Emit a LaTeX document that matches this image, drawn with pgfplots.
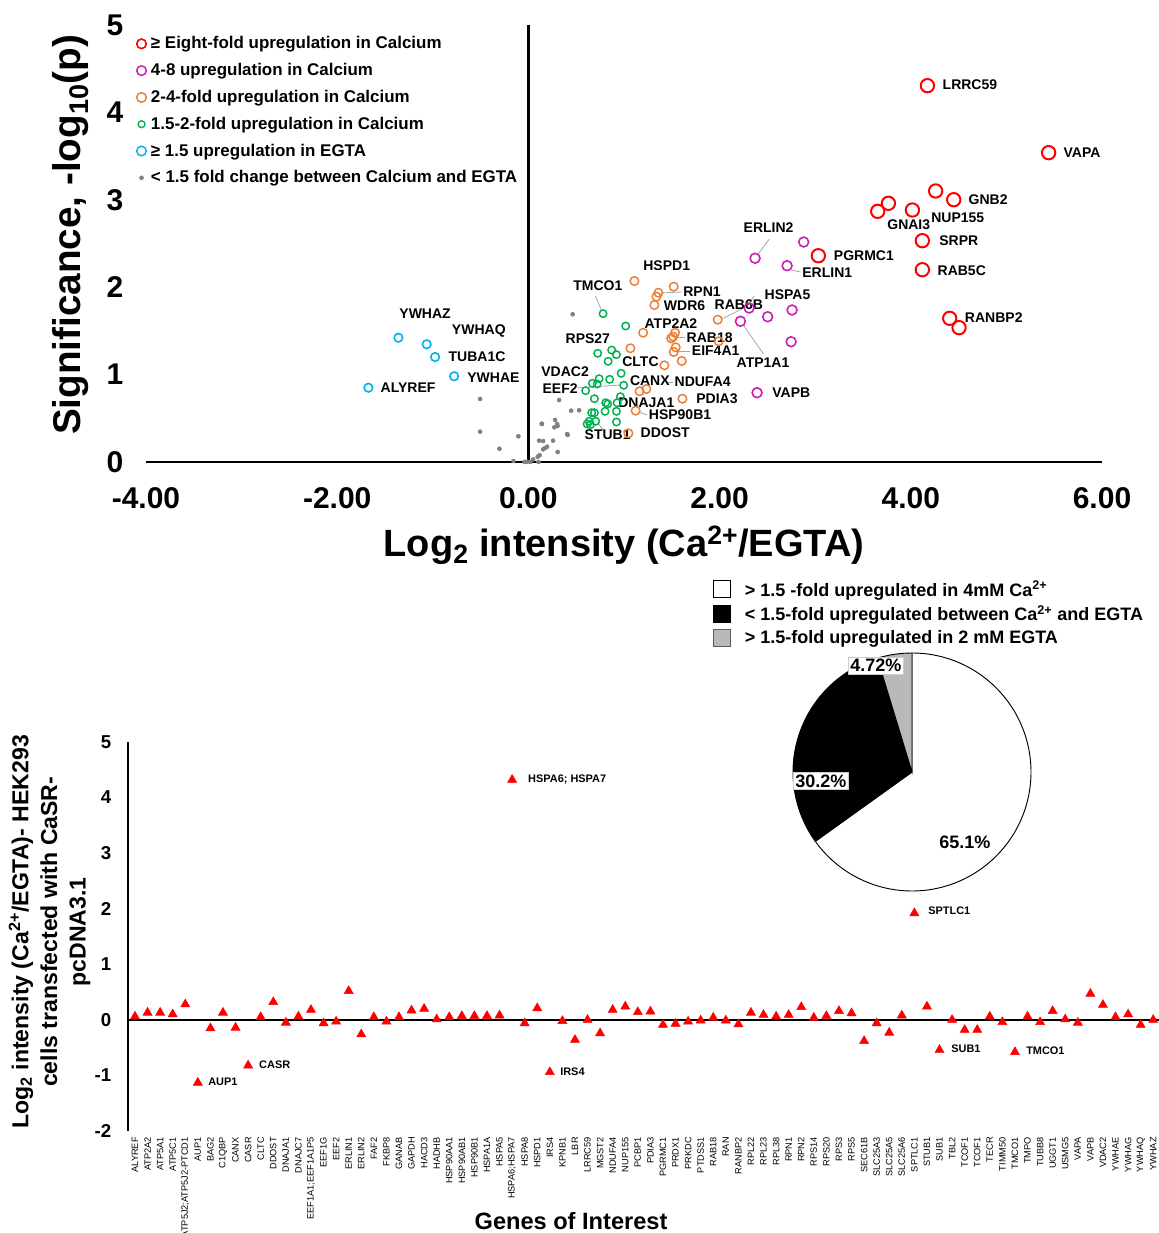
\documentclass[border=0pt]{standalone}
\usepackage{fontspec}
\setmainfont{Liberation Sans}
\usepackage{pgfplots}
\pgfplotsset{compat=1.18}
\usepackage{pgfplotstable}

\definecolor{upred}{RGB}{255,0,0}
\definecolor{upmag}{RGB}{204,30,180}
\definecolor{uporange}{RGB}{237,125,49}
\definecolor{upgreen}{RGB}{0,176,80}
\definecolor{upblue}{RGB}{0,176,240}
\definecolor{nsgray}{RGB}{128,128,128}

\pgfplotsset{
  legmark/.style={legend image code/.code={%
    \draw[mark repeat=2,mark phase=2,##1] plot coordinates {(-3pt,0pt) (0pt,0pt) (3pt,0pt)};}},
}
\tikzset{
  lab/.style={font=\bfseries\fontsize{10.5}{12}\selectfont, inner sep=0pt, anchor=west},
  leader/.style={gray!70, line width=0.6pt},
  pct/.style={font=\bfseries\fontsize{13.5}{15}\selectfont, inner sep=1.5pt},
  glab/.style={font=\bfseries\fontsize{8.2}{9}\selectfont, inner sep=0pt, anchor=west},
}

% ---------- volcano plot: x = log2 ratio, y = -log10(p) ----------
\pgfplotstableread{
x y
4.174 4.306
5.442 3.539
4.260 3.101
4.449 3.001
3.766 2.960
3.654 2.868
4.017 2.883
4.121 2.532
4.121 2.200
3.033 2.360
4.407 1.644
4.505 1.537
}\eightfold

\pgfplotstableread{
x y
2.371 2.331
2.880 2.517
2.706 2.246
2.309 1.762
2.503 1.662
2.758 1.739
2.218 1.610
2.748 1.376
2.392 0.793
}\fourfold

\pgfplotstableread{
x y
1.109 2.071
1.520 2.006
1.360 1.937
1.339 1.891
1.318 1.796
1.980 1.628
1.200 1.479
1.535 1.479
1.514 1.434
1.493 1.415
1.990 1.381
1.067 1.301
1.541 1.312
1.520 1.259
1.604 1.156
1.423 1.106
1.234 0.835
1.164 0.809
1.611 0.724
1.122 0.587
1.046 0.328
}\twofold

\pgfplotstableread{
x y
0.781 1.697
1.018 1.556
0.725 1.244
0.871 1.281
0.921 1.228
0.834 1.152
0.970 1.015
0.740 0.953
0.850 0.946
0.669 0.900
0.719 0.892
0.599 0.816
0.997 0.878
0.690 0.724
0.962 0.747
0.809 0.678
0.829 0.664
0.928 0.678
0.690 0.564
0.802 0.580
0.921 0.580
0.662 0.564
0.635 0.466
0.704 0.466
0.614 0.435
0.649 0.427
0.921 0.458
}\onehalffold

\pgfplotstableread{
x y
-1.360 1.422
-1.064 1.347
-0.976 1.201
-0.777 0.981
-1.674 0.850
}\egta

\pgfplotstableread{
x y
-0.505 0.721
-0.505 0.347
-0.105 0.294
-0.303 0.152
-0.157 0.011
-0.014 0.003
0.020 0.000
0.105 0.000
0.139 0.438
0.279 0.481
0.272 0.397
0.306 0.412
0.321 0.709
0.405 0.320
0.112 0.244
0.258 0.244
0.175 0.160
0.154 0.145
0.306 0.114
0.118 0.077
0.097 0.061
0.463 1.690
0.530 0.592
0.447 0.587
0.300 0.435
0.411 0.309
0.143 0.435
0.154 0.240
0.196 0.175
-0.040 0.000
0.050 0.030
}\unchanged

% ---------- HEK293 / CaSR-pcDNA3.1 log2 ratios, one per gene ----------
\pgfplotstableread{
i v
0 0.06
1 0.13
2 0.13
3 0.10
4 0.28
5 -1.13
6 -0.15
7 0.13
8 -0.14
9 -0.82
10 0.05
11 0.32
12 -0.05
13 0.06
14 0.18
15 -0.06
16 -0.03
17 0.52
18 -0.26
19 0.05
20 -0.03
21 0.05
22 0.17
23 0.20
24 0.01
25 0.05
26 0.07
27 0.07
28 0.07
29 0.08
30 4.32
31 -0.06
32 0.21
33 -0.94
34 -0.02
35 -0.36
36 0.00
37 -0.24
38 0.18
39 0.24
40 0.14
41 0.15
42 -0.09
43 -0.07
44 -0.03
45 -0.01
46 0.04
47 -0.01
48 -0.08
49 0.13
50 0.09
51 0.06
52 0.09
53 0.23
54 0.04
55 0.07
56 0.16
57 0.12
58 -0.38
59 -0.06
60 -0.23
61 0.08
62 1.92
63 0.24
64 -0.54
65 0.00
66 -0.18
67 -0.18
68 0.06
69 -0.04
70 -0.58
71 0.06
72 -0.04
73 0.16
74 0.01
75 -0.05
76 0.47
77 0.27
78 0.05
79 0.10
80 -0.09
81 0.00
}\hekratios

% pie shares (percent)
\def\shareCa{65.1}
\def\shareNone{30.2}
\def\shareEGTA{4.72}

\begin{document}
\begin{tikzpicture}
\useasboundingbox (0,0) rectangle (869.25pt,924.75pt);

% ================= volcano plot =================
\begin{axis}[
  at={(109.5pt,578.25pt)}, anchor=south west,
  width=717pt, height=327.75pt, scale only axis,
  xmin=-4, xmax=6, ymin=0, ymax=5,
  clip=false,
  axis x line*=bottom, axis y line*=left,
  x axis line style={-, line width=2.2pt},
  y axis line style={draw=none},
  xtick={-4,-2,0,2,4,6}, ytick={0,1,2,3,4,5},
  major tick length=0pt,
  /pgf/number format/assume math mode=true,
  xticklabel style={font=\bfseries\fontsize{22.5}{24}\selectfont,
    /pgf/number format/fixed, /pgf/number format/fixed zerofill,
    /pgf/number format/precision=2, yshift=-16pt},
  yticklabel style={font=\bfseries\fontsize{22.5}{24}\selectfont, xshift=-13.5pt},
  xlabel={Log\textsubscript{2} intensity (Ca\textsuperscript{2+}/EGTA)},
  ylabel={Significance, -log\textsubscript{10}(p)},
  xlabel style={font=\bfseries\fontsize{28.5}{30}\selectfont,
    at={(axis description cs:0.5,-0.217)}, anchor=base},
  ylabel style={font=\bfseries\fontsize{29}{30}\selectfont,
    at={(axis description cs:-0.068,0.52)}, anchor=base},
  legend style={draw=none, fill=none, inner sep=0pt,
    font=\bfseries\fontsize{12.7}{15}\selectfont,
    at={(axis description cs:-0.010,0.980)}, anchor=north west,
    row sep=5.4pt, cells={anchor=west}},
  legend cell align=left,
]
% legend entries
\addlegendimage{only marks, mark=o, mark size=3.6pt, upred, line width=1.2pt, legmark}
\addlegendentry{\hspace{1.5pt}≥ Eight-fold upregulation in Calcium}
\addlegendimage{only marks, mark=o, mark size=3.6pt, upmag, line width=1.1pt, legmark}
\addlegendentry{\hspace{1.5pt}4-8 upregulation in Calcium}
\addlegendimage{only marks, mark=o, mark size=3.6pt, uporange, line width=1.1pt, legmark}
\addlegendentry{\hspace{1.5pt}2-4-fold upregulation in Calcium}
\addlegendimage{only marks, mark=o, mark size=2.6pt, upgreen, line width=1.0pt, legmark}
\addlegendentry{\hspace{1.5pt}1.5-2-fold upregulation in Calcium}
\addlegendimage{only marks, mark=o, mark size=3.6pt, upblue, line width=1.1pt, legmark}
\addlegendentry{\hspace{1.5pt}≥ 1.5 upregulation in EGTA}
\addlegendimage{only marks, mark=*, mark size=1.5pt, nsgray, legmark}
\addlegendentry{\hspace{1.5pt}< 1.5 fold change between Calcium and EGTA}

% vertical axis line at x = 0
\addplot[black, line width=2.2pt, forget plot] coordinates {(0,0) (0,5)};

\addplot[only marks, mark=*, mark size=1.5pt, nsgray, forget plot] table {\unchanged};
\addplot[only marks, mark=o, mark size=3.2pt, upblue, line width=1.2pt, forget plot] table {\egta};
\addplot[only marks, mark=o, mark size=2.8pt, upgreen, line width=1.1pt, forget plot] table {\onehalffold};
\addplot[only marks, mark=o, mark size=3.2pt, uporange, line width=1.1pt, forget plot] table {\twofold};
\addplot[only marks, mark=o, mark size=3.7pt, upmag, line width=1.2pt, forget plot] table {\fourfold};
\addplot[only marks, mark=o, mark size=5.0pt, upred, line width=1.5pt, forget plot] table {\eightfold};

% leader lines
\draw[leader] (axis cs:2.396,2.369) -- (axis cs:2.521,2.551);
\draw[leader] (axis cs:2.751,2.197) -- (axis cs:2.845,2.174);
\draw[leader] (axis cs:0.701,1.899) -- (axis cs:0.764,1.739);
\draw[leader] (axis cs:1.381,1.934) -- (axis cs:1.600,1.945);
\draw[leader] (axis cs:1.559,1.430) -- (axis cs:1.642,1.430);
\draw[leader] (axis cs:1.538,1.270) -- (axis cs:1.695,1.270);
\draw[leader] (axis cs:2.249,1.568) -- (axis cs:2.458,1.236);
\draw[leader] (axis cs:1.444,0.915) -- (axis cs:1.517,0.915);
\draw[leader] (axis cs:0.513,0.847) -- (axis cs:0.962,0.881);
\draw[leader] (axis cs:1.151,0.572) -- (axis cs:1.245,0.538);
\draw[leader] (axis cs:0.722,0.446) -- (axis cs:0.795,0.355);
\draw[leader] (axis cs:2.030,1.640) -- (axis cs:2.250,1.760);
\draw[leader] (axis cs:2.300,1.800) -- (axis cs:2.360,1.900);

% gene names
\node[lab] at (axis cs:4.331,4.314) {LRRC59};
\node[lab] at (axis cs:5.596,3.535) {VAPA};
\node[lab] at (axis cs:4.603,2.998) {GNB2};
\node[lab] at (axis cs:4.212,2.795) {NUP155};
\node[lab] at (axis cs:3.752,2.712) {GNAI3};
\node[lab] at (axis cs:4.296,2.532) {SRPR};
\node[lab] at (axis cs:4.278,2.189) {RAB5C};
\node[lab] at (axis cs:3.193,2.357) {PGRMC1};
\node[lab] at (axis cs:4.564,1.651) {RANBP2};
\node[lab] at (axis cs:2.249,2.677) {ERLIN2};
\node[lab] at (axis cs:2.863,2.170) {ERLIN1};
\node[lab] at (axis cs:2.469,1.911) {HSPA5};
\node[lab] at (axis cs:1.946,1.796) {RAB6B};
\node[lab] at (axis cs:1.200,2.243) {HSPD1};
\node[lab] at (axis cs:0.468,2.014) {TMCO1};
\node[lab] at (axis cs:1.618,1.949) {RPN1};
\node[lab] at (axis cs:1.415,1.788) {WDR6};
\node[lab] at (axis cs:1.213,1.582) {ATP2A2};
\node[lab] at (axis cs:1.653,1.419) {RAB18};
\node[lab] at (axis cs:1.708,1.270) {EIF4A1};
\node[lab] at (axis cs:2.176,1.136) {ATP1A1};
\node[lab] at (axis cs:0.387,1.411) {RPS27};
\node[lab] at (axis cs:0.980,1.148) {CLTC};
\node[lab] at (axis cs:0.133,1.033) {VDAC2};
\node[lab] at (axis cs:1.060,0.935) {CANX};
\node[lab] at (axis cs:1.527,0.923) {NDUFA4};
\node[lab] at (axis cs:0.146,0.839) {EEF2};
\node[lab] at (axis cs:0.938,0.678) {DNAJA1};
\node[lab] at (axis cs:1.754,0.721) {PDIA3};
\node[lab] at (axis cs:1.258,0.538) {HSP90B1};
\node[lab] at (axis cs:0.586,0.309) {STUB1};
\node[lab] at (axis cs:1.172,0.335) {DDOST};
\node[lab] at (axis cs:2.550,0.793) {VAPB};
\node[lab] at (axis cs:-1.352,1.693) {YWHAZ};
\node[lab] at (axis cs:-0.802,1.499) {YWHAQ};
\node[lab] at (axis cs:-0.837,1.205) {TUBA1C};
\node[lab] at (axis cs:-0.641,0.969) {YWHAE};
\node[lab] at (axis cs:-1.548,0.850) {ALYREF};
\end{axis}

% ================= pie chart =================
\begin{axis}[
  at={(594.75pt,256.5pt)}, anchor=south west,
  width=178.5pt, height=178.5pt, scale only axis,
  xmin=-1, xmax=1, ymin=-1, ymax=1,
  hide axis, clip=false,
  legend style={draw=none, fill=none, inner sep=0pt,
    font=\bfseries\fontsize{13.5}{15}\selectfont,
    at={(axis description cs:-0.336,1.318)}, anchor=north west,
    row sep=1.4pt, cells={anchor=west}},
  legend cell align=left,
]
\addlegendimage{only marks, mark=square*, mark size=6.3pt, mark options={fill=white, draw=black, line width=0.5pt}, legmark}
\addlegendentry{\hspace{9pt}> 1.5 -fold upregulated in 4mM Ca\textsuperscript{2+}}
\addlegendimage{only marks, mark=square*, mark size=6.3pt, mark options={fill=black, draw=black, line width=0.5pt}, legmark}
\addlegendentry{\hspace{9pt}< 1.5-fold upregulated between Ca\textsuperscript{2+} and EGTA}
\addlegendimage{only marks, mark=square*, mark size=6.3pt, mark options={fill=gray!55, draw=gray!70!black, line width=0.5pt}, legmark}
\addlegendentry{\hspace{9pt}> 1.5-fold upregulated in 2 mM EGTA}

\pgfmathsetmacro{\angA}{90-3.6*\shareCa}
\pgfmathsetmacro{\angB}{\angA-3.6*\shareNone}
\filldraw[fill=white, draw=black, line width=0.7pt]
  (axis cs:0,0) -- (axis cs:0,1) arc[start angle=90, end angle=\angA, radius=89.25pt] -- cycle;
\filldraw[fill=black, draw=black, line width=0.7pt]
  (axis cs:0,0) -- (axis cs:{cos(\angA)},{sin(\angA)}) arc[start angle=\angA, end angle=\angB, radius=89.25pt] -- cycle;
\filldraw[fill=gray!55, draw=black, line width=0.7pt]
  (axis cs:0,0) -- (axis cs:{cos(\angB)},{sin(\angB)}) arc[start angle=\angB, end angle=-270, radius=89.25pt] -- cycle;

\node[pct] at (axis cs:0.445,-0.588) {65.1\%};
\node[pct, fill=white, draw=gray!40, line width=0.4pt] at (axis cs:-0.765,-0.076) {30.2\%};
\node[pct, fill=white, draw=gray!40, line width=0.4pt] at (axis cs:-0.303,0.895) {4.72\%};
\end{axis}

% ================= gene-by-gene ratios in HEK293 =================
\begin{axis}[
  at={(96pt,76.5pt)}, anchor=south west,
  width=773.625pt, height=291.75pt, scale only axis,
  xmin=-0.557, xmax=81.5, ymin=-2, ymax=5,
  clip=false,
  axis x line*=bottom, axis y line*=left,
  x axis line style={draw=none},
  y axis line style={-, line width=1.6pt},
  major tick length=0pt,
  xtick={0,...,81},
  xticklabels={ALYREF,ATP2A2,ATP5A1,ATP5C1,ATP5J2;ATP5J2-PTCD1,AUP1,BAG2,C1QBP,CANX,CASR,CLTC,DDOST,DNAJA1,DNAJC7,EEF1A1;EEF1A1P5,EEF1G,EEF2,ERLIN1,ERLIN2,FAF2,FKBP8,GANAB,GAPDH,HACD3,HADHB,HSP90AA1,HSP90AB1,HSP90B1,HSPA1A,HSPA5,HSPA6;HSPA7,HSPA8,HSPD1,IRS4,KPNB1,LBR,LRRC59,MGST2,NDUFA4,NUP155,PCBP1,PDIA3,PGRMC1,PRDX1,PRKDC,PTDSS1,RAB18,RAN,RANBP2,RPL22,RPL23,RPL38,RPN1,RPN2,RPS14,RPS20,RPS3,RPS5,SEC61B,SLC25A3,SLC25A5,SLC25A6,SPTLC1,STUB1,SUB1,TBL2,TCOF1,TCOF1,TECR,TIMM50,TMCO1,TMPO,TUBB8,UGGT1,USMG5,VAPA,VAPB,VDAC2,YWHAE,YWHAG,YWHAQ,YWHAZ},
  xticklabel style={rotate=90, anchor=east, inner sep=0pt, xshift=-4.5pt,
    font=\fontsize{6.9}{7.2}\selectfont},
  ytick={-2,-1,0,1,2,3,4,5},
  /pgf/number format/assume math mode=true,
  yticklabel style={font=\bfseries\fontsize{14}{15}\selectfont, xshift=-9pt},
  xlabel={Genes of Interest},
  xlabel style={font=\bfseries\fontsize{17.7}{20}\selectfont,
    at={(axis description cs:0.4295,-0.252)}, anchor=base},
  ylabel={Log\textsubscript{2} intensity (Ca\textsuperscript{2+}/EGTA)- HEK293\\cells transfected with CaSR-\\pcDNA3.1},
  ylabel style={font=\bfseries\fontsize{17.3}{21.4}\selectfont, align=center,
    at={(axis description cs:-0.076,0.512)}, anchor=center},
]
% zero line
\addplot[black, line width=1.6pt] coordinates {(-0.557,0) (81.5,0)};
\addplot[only marks, mark=triangle*, mark size=3.9pt, color=upred] table[x=i, y=v] {\hekratios};

\node[glab] at (axis cs:31.26,4.32) {HSPA6; HSPA7};
\node[glab] at (axis cs:63.09,1.96) {SPTLC1};
\node[glab] at (axis cs:9.86,-0.81) {CASR};
\node[glab] at (axis cs:5.81,-1.12) {AUP1};
\node[glab] at (axis cs:33.81,-0.94) {IRS4};
\node[glab] at (axis cs:64.92,-0.52) {SUB1};
\node[glab] at (axis cs:70.88,-0.56) {TMCO1};
\end{axis}
\end{tikzpicture}
\end{document}
